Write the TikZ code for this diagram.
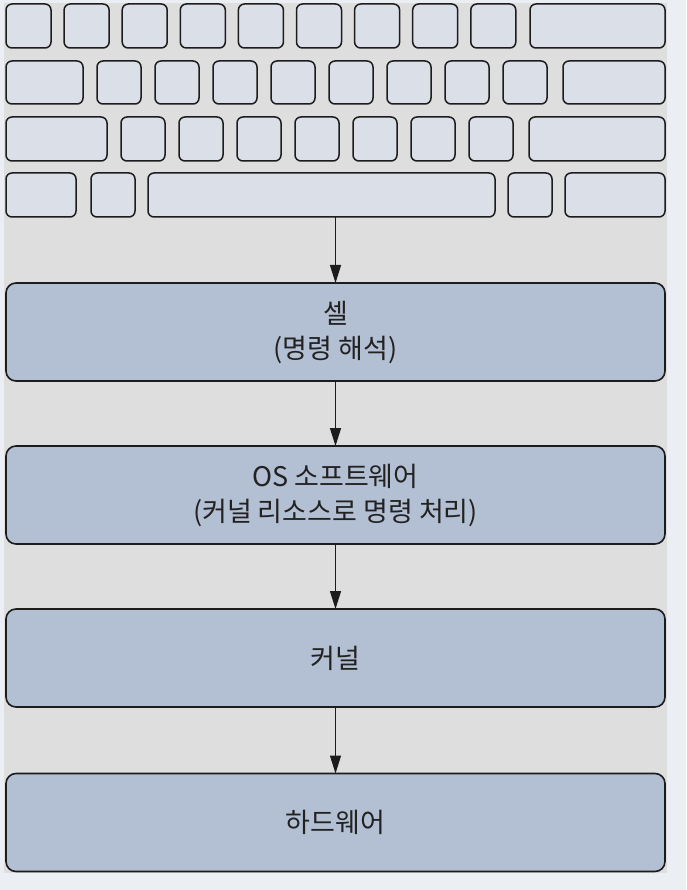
\documentclass[tikz,border=0pt]{standalone}
\usepackage{fontspec}
\setmainfont{Noto Sans CJK KR}
\usetikzlibrary{arrows.meta}
\definecolor{outerbg}{HTML}{EBEEF3}
\definecolor{panelbg}{HTML}{DEDEDE}
\definecolor{keyfill}{HTML}{DADFE8}
\definecolor{boxfill}{HTML}{B3BFD2}
\definecolor{edge}{HTML}{1C1C1C}
\definecolor{txt}{HTML}{222222}
\newcommand\kbox[5]{\node[keyst,minimum width={(#3-#2)*1pt},minimum height={(#5-#4)*1pt}] (#1) at ({(#2+#3)/2},{(#4+#5)/2}) {};}
\begin{document}
\begin{tikzpicture}[x=1pt,y=-1pt,
  keyst/.style={draw=edge,fill=keyfill,line width=1.5pt,rounded corners=6pt,inner sep=0pt,outer sep=0pt},
  layer/.style={draw=edge,fill=boxfill,line width=1.6pt,rounded corners=10pt,inner sep=0pt,outer sep=0pt,align=center,text=txt,font=\fontsize{27}{35}\selectfont,minimum width=659pt,minimum height=98pt},
  flow/.style={-{Triangle[length=18pt,width=11pt]},line width=1.3pt,draw=edge}]
\fill[outerbg] (0,0) rectangle (686,890);
\useasboundingbox (0,0) rectangle (686,890);
\fill[panelbg] (4,3) rectangle (667,873);
% row 1
\foreach \i in {0,...,8}{\pgfmathsetmacro\xa{6+58.1*\i}\pgfmathsetmacro\xb{\xa+45}\kbox{ra\i}{\xa}{\xb}{4}{48}}
\kbox{rawide}{530}{665}{4}{48}
% row 2
\kbox{rbwide}{6}{83}{61}{104}
\foreach \i in {0,...,7}{\pgfmathsetmacro\xa{97+58*\i}\pgfmathsetmacro\xb{\xa+44}\kbox{rb\i}{\xa}{\xb}{61}{104}}
\kbox{rbwideb}{563}{665}{61}{104}
% row 3
\kbox{rcwide}{6}{107}{117}{161}
\foreach \i in {0,...,6}{\pgfmathsetmacro\xa{121+58*\i}\pgfmathsetmacro\xb{\xa+44}\kbox{rc\i}{\xa}{\xb}{117}{161}}
\kbox{rcwideb}{529}{665}{117}{161}
% row 4
\kbox{rda}{6}{76}{173}{217}
\kbox{rdb}{91}{135}{173}{217}
\kbox{space}{148}{495}{173}{217}
\kbox{rdc}{508}{552}{173}{217}
\kbox{rdd}{565}{665}{173}{217}
% layers
\node[layer] (shell) at (335.5,332) {셀\\(명령 해석)};
\node[layer] (os) at (335.5,495) {OS 소프트웨어\\(커널 리소스로 명령 처리)};
\node[layer] (kernel) at (335.5,658) {커널};
\node[layer] (hw) at (335.5,822.5) {하드웨어};
\draw[flow] (space.south -| shell.north) -- (shell.north);
\draw[flow] (shell.south) -- (os.north);
\draw[flow] (os.south) -- (kernel.north);
\draw[flow] (kernel.south) -- (hw.north);
\end{tikzpicture}
\end{document}
